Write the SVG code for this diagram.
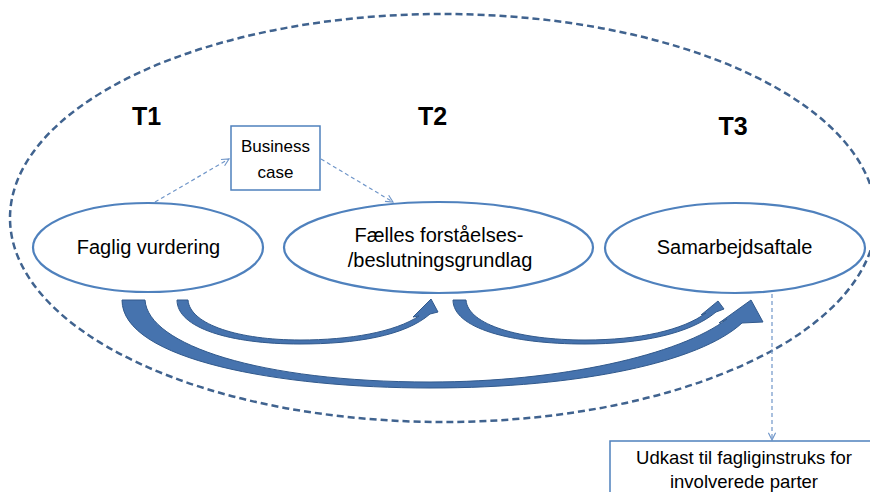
<svg xmlns="http://www.w3.org/2000/svg" width="870" height="492" viewBox="0 0 870 492">
<defs>
<style>
.node{fill:#fff;stroke:#4f81bd;stroke-width:2.2}
.lbl{font-family:"Liberation Sans",Arial,sans-serif;font-size:20px;fill:#000;text-anchor:middle}
.small{font-size:17px}
.t{font-family:"Liberation Sans",Arial,sans-serif;font-size:25px;font-weight:bold;fill:#000;text-anchor:middle}
.dash{fill:none;stroke:#7096c9;stroke-width:1.2;stroke-dasharray:4 3}
.block{fill:#4673ae;stroke:#31598c;stroke-width:1}
.box{fill:#fff;stroke:#4f81bd;stroke-width:1.5}
</style>
<marker id="open" viewBox="0 0 10 10" refX="9" refY="5" markerWidth="9" markerHeight="9" markerUnits="userSpaceOnUse" orient="auto">
<path d="M1,1 L9,5 L1,9" fill="none" stroke="#7096c9" stroke-width="1.3"/>
</marker>
</defs>
<ellipse id="outer" cx="443" cy="218" rx="433" ry="204" fill="none" stroke="#40638f" stroke-width="2.5" stroke-dasharray="7 4"/>
<g id="labels">
<text class="t" x="146.5" y="125">T1</text>
<text class="t" x="432.5" y="125">T2</text>
<text class="t" x="733" y="135">T3</text>
</g>
<g id="connectors">
<line class="dash" x1="155" y1="202" x2="229" y2="159" marker-end="url(#open)"/>
<line class="dash" x1="321" y1="159" x2="393" y2="202" marker-end="url(#open)"/>
<line class="dash" x1="772" y1="294" x2="772" y2="440" marker-end="url(#open)"/>
<path class="block" d="M122,300 L145,300 C148,345 260,382 430,382 C560,382 680,355 727,319 L719,323 L751,300 L763,322 L742,323 C700,362 580,388 430,388 C280,388 122,360 122,300 Z"/>
<path class="block" d="M177,300 L188,300 C190,325 240,340 300,340 C350,340 395,332 419,316 L413,317 L431,299 L438,312 L430,314 C405,336 355,344 300,344 C230,344 177,328 177,300 Z"/>
<path class="block" d="M453,300 L466,300 C468,325 520,340 585,340 C640,340 683,330 706,313 L701,315 L718,301 L724,309 L716,312 C690,334 640,344 585,344 C510,344 453,328 453,300 Z"/>
</g>
<g id="business-case">
<rect class="box" x="231" y="126" width="89" height="64"/>
<text class="lbl small" x="275.5" y="152">Business</text>
<text class="lbl small" x="275.5" y="178">case</text>
</g>
<g id="faglig-vurdering">
<ellipse class="node" cx="148" cy="247.5" rx="115" ry="44.5"/>
<text class="lbl" x="148.5" y="254">Faglig vurdering</text>
</g>
<g id="faelles">
<ellipse class="node" cx="438.5" cy="247.5" rx="154.5" ry="45.5"/>
<text class="lbl" x="439" y="242">Fælles forståelses-</text>
<text class="lbl" x="440" y="267">/beslutningsgrundlag</text>
</g>
<g id="samarbejdsaftale">
<ellipse class="node" cx="735" cy="248" rx="130" ry="45"/>
<text class="lbl" x="734.5" y="254">Samarbejdsaftale</text>
</g>
<g id="udkast">
<rect class="box" x="610" y="441" width="265" height="60"/>
<text class="lbl" style="font-size:18.5px" x="744" y="464">Udkast til fagliginstruks for</text>
<text class="lbl" style="font-size:18.5px" x="744" y="488">involverede parter</text>
</g>
</svg>
